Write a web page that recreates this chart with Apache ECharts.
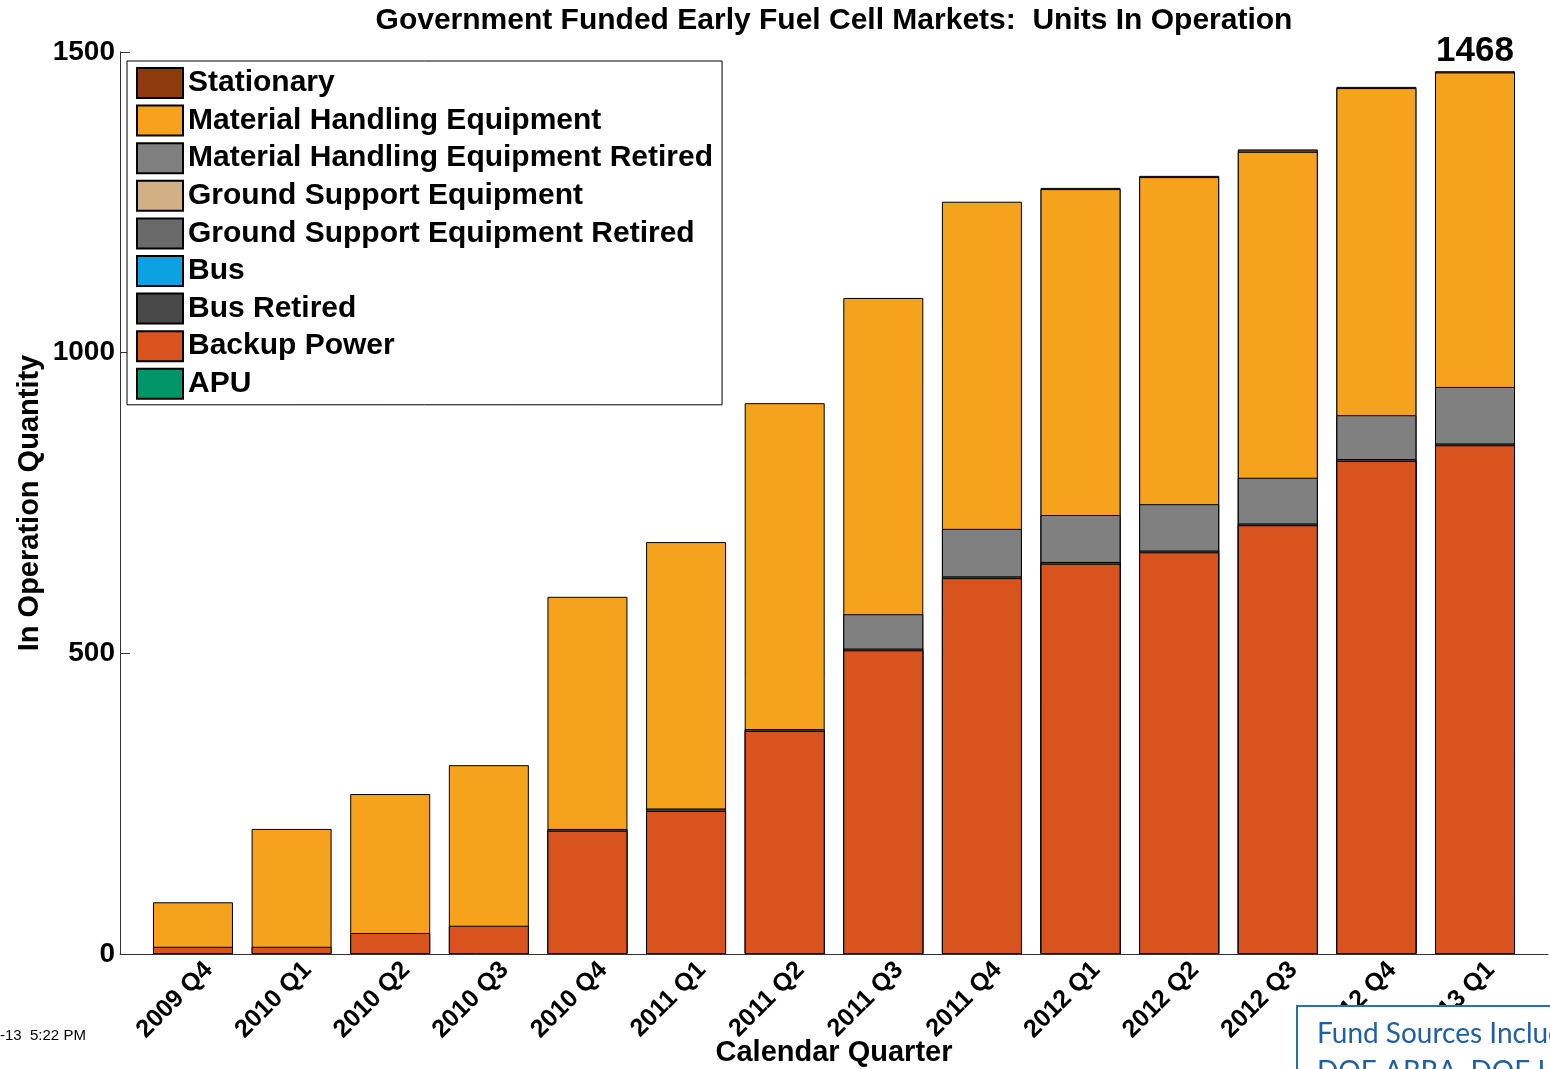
<!DOCTYPE html>
<html>
<head>
<meta charset="utf-8">
<script src="https://cdn.jsdelivr.net/npm/echarts@6/dist/echarts.min.js"></script>
<style>
  html, body { margin: 0; padding: 0; background: #fff; }
  #chart { width: 1550px; height: 1069px; }
</style>
</head>
<body>
<div id="chart"></div>
<script>
var quarters = ["2009 Q4", "2010 Q1", "2010 Q2", "2010 Q3", "2010 Q4", "2011 Q1", "2011 Q2",
  "2011 Q3", "2011 Q4", "2012 Q1", "2012 Q2", "2012 Q3", "2012 Q4", "2013 Q1"];

// units per quarter, bottom of the stack first
var backupPower = [12, 12, 35, 47, 205, 238, 371, 505, 625, 649, 668, 713, 820, 846];
var busRetired  = [null, null, null, null, 3, 4, 3, 3, 3, 3, 3, 3, 3, 3];
var bus         = [];
var gseRetired  = [];
var gse         = [];
var mheRetired  = [null, null, null, null, null, null, null, 57, 79, 78, 77, 76, 73, 94];
var mhe         = [74, 196, 231, 267, 386, 443, 542, 526, 544, 542, 544, 542, 544, 523];
var stationary  = [null, null, null, null, null, null, null, null, null, 2, 2, 4, 2, 2];
var apu         = [];

var yTicks = [0, 500, 1000, 1500];

var legendOrder = ["Stationary", "Material Handling Equipment", "Material Handling Equipment Retired",
  "Ground Support Equipment", "Ground Support Equipment Retired", "Bus", "Bus Retired",
  "Backup Power", "APU"];

var stackDefs = [
  ["APU", apu, "#009569"],
  ["Backup Power", backupPower, "#D9531F"],
  ["Bus Retired", busRetired, "#484848"],
  ["Bus", bus, "#0CA2E2"],
  ["Ground Support Equipment Retired", gseRetired, "#6A6A6A"],
  ["Ground Support Equipment", gse, "#D3AF85"],
  ["Material Handling Equipment Retired", mheRetired, "#808080"],
  ["Material Handling Equipment", mhe, "#F5A21C"],
  ["Stationary", stationary, "#8C3A0E"]
];

var font = "'Liberation Sans', Arial, sans-serif";

// the x axis is a value axis (quarter number 1..14), so the stack is drawn as
// overlapping cumulative bars: the top layer sits at the back, the bottom layer in front
var running = quarters.map(function () { return 0; });
var cumulative = stackDefs.map(function (d) {
  return quarters.map(function (q, i) {
    var v = d[1][i];
    if (v == null) return null;
    running[i] += v;
    return running[i];
  });
});
var lastIdx = quarters.length - 1;
var lastTotal = running[lastIdx];

var series = stackDefs.map(function (d, si) {
  var isTop = si === stackDefs.length - 1;
  return {
    name: d[0],
    type: "bar",
    barWidth: 80,
    barGap: "-100%",
    z: 10 - si,
    itemStyle: { color: d[2], borderColor: "#000", borderWidth: 1 },
    emphasis: { disabled: true },
    data: quarters.map(function (q, i) {
      var v = cumulative[si][i];
      var item = { value: [i + 1, v == null ? "-" : v] };
      if (isTop && i === lastIdx) {
        item.label = {
          show: true,
          position: "top",
          distance: 2,
          formatter: String(lastTotal),
          fontFamily: font,
          fontWeight: "bold",
          fontSize: 35,
          color: "#000"
        };
      }
      return item;
    })
  };
});

var labelShift = 0.16; // rotated quarter labels sit a little right of the bar centre

var chart = echarts.init(document.getElementById("chart"));
chart.setOption({
  animation: false,
  backgroundColor: "#fff",
  title: {
    text: "Government Funded Early Fuel Cell Markets:  Units In Operation",
    left: 829,
    top: 1,
    textAlign: "center",
    textStyle: { fontFamily: font, fontWeight: "bold", fontSize: 30, color: "#000" }
  },
  legend: {
    data: legendOrder,
    orient: "vertical",
    left: 127,
    top: 61,
    padding: [6, 9, 5, 9],
    itemWidth: 46,
    itemHeight: 30,
    itemGap: 5.6,
    icon: "rect",
    borderColor: "#000",
    borderWidth: 1,
    backgroundColor: "#fff",
    selectedMode: false,
    textStyle: { fontFamily: font, fontWeight: "bold", fontSize: 30, color: "#000" }
  },
  grid: { left: 120, right: 2, top: 52, bottom: 115, outerBoundsMode: "none" },
  xAxis: {
    type: "value",
    min: 0.26,
    max: 14.74,
    name: "Calendar Quarter",
    nameLocation: "middle",
    nameGap: 84,
    nameMoveOverlap: false,
    nameTextStyle: { fontFamily: font, fontWeight: "bold", fontSize: 29, color: "#000" },
    axisLine: { show: true, lineStyle: { color: "#333", width: 1 } },
    axisTick: { show: false },
    splitLine: { show: false },
    axisLabel: {
      customValues: quarters.map(function (q, i) { return i + 1 + labelShift; }),
      formatter: function (v) { return quarters[Math.round(v - labelShift) - 1]; },
      rotate: 45,
      margin: 12,
      fontFamily: font,
      fontWeight: "bold",
      fontSize: 25,
      color: "#000"
    }
  },
  yAxis: {
    type: "value",
    min: yTicks[0],
    max: yTicks[yTicks.length - 1],
    interval: 500,
    name: "In Operation Quantity",
    nameLocation: "middle",
    nameGap: 76,
    nameMoveOverlap: false,
    nameTextStyle: { fontFamily: font, fontWeight: "bold", fontSize: 29, color: "#000" },
    axisLine: { show: true, lineStyle: { color: "#333", width: 1 } },
    axisTick: { show: true, inside: true, length: 10, lineStyle: { color: "#333" } },
    splitLine: { show: false },
    axisLabel: {
      margin: 5,
      formatter: function (v) { return String(v); },
      fontFamily: font,
      fontWeight: "bold",
      fontSize: 28,
      color: "#000"
    }
  },
  graphic: [
    {
      type: "text",
      left: 0,
      top: 1028,
      style: { text: "-13  5:22 PM", font: "15px " + font, fill: "#000" }
    },
    {
      type: "group",
      left: 1296,
      top: 1005,
      children: [
        {
          type: "rect",
          z: 100,
          shape: { x: 0, y: 0, width: 300, height: 120 },
          style: { fill: "#fff", stroke: "#2E6DB4", lineWidth: 2 }
        },
        {
          type: "text",
          z: 101,
          x: 20,
          y: 14,
          style: { text: "Fund Sources Include", font: "28px Lato, 'Open Sans', sans-serif", fill: "#1F5FA8" }
        },
        {
          type: "text",
          z: 101,
          x: 20,
          y: 52,
          style: { text: "DOE ARRA, DOE IA", font: "28px Lato, 'Open Sans', sans-serif", fill: "#1F5FA8" }
        }
      ]
    }
  ],
  series: series
});
</script>
</body>
</html>
